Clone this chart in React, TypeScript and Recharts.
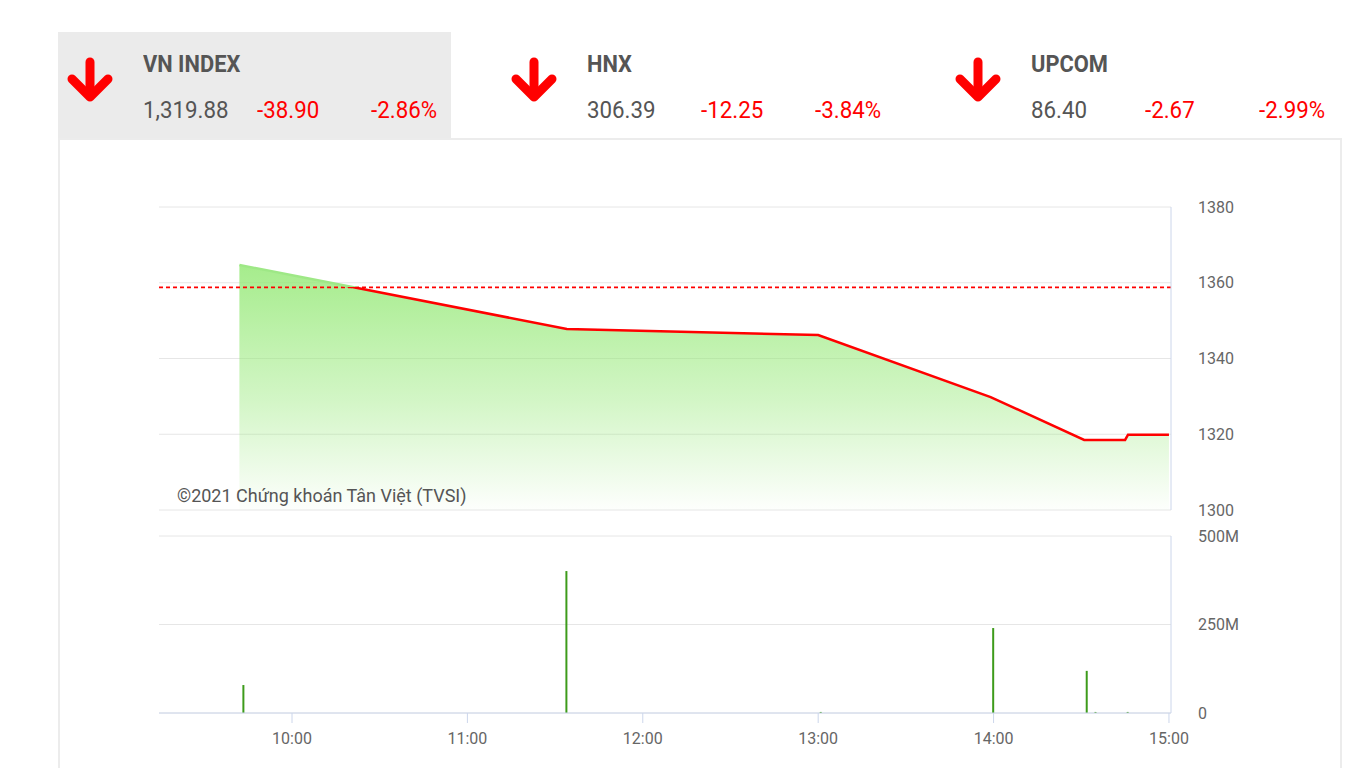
import React from 'react'
import {
  ComposedChart, Area, Line, Bar, XAxis, YAxis, CartesianGrid, ReferenceLine,
} from 'recharts'

// index summary (header tabs)
const indexNames = ['VN INDEX', 'HNX', 'UPCOM']
const indexValues = ['1,319.88', '306.39', '86.40']
const indexChanges = ['-38.90', '-12.25', '-2.67']
const indexPercents = ['-2.86%', '-3.84%', '-2.99%']

// intraday VN-INDEX, time in minutes from midnight
const priceTimes = [582, 694, 780, 839, 871, 885, 886, 900]
const priceValues = [1364.7, 1347.8, 1346.2, 1329.8, 1318.5, 1318.5, 1319.88, 1319.88]
const prevClose = 1358.78

// matched volume, millions
const volTimes = [583.5, 694, 781, 840, 872, 875, 886]
const volValues = [79, 401, 3, 240, 119, 3, 3]

const priceTicks = [1300, 1320, 1340, 1360, 1380]
const volTicks = [0, 250, 500]
const timeTicks = [600, 660, 720, 780, 840, 900]
const timeLabels = ['10:00', '11:00', '12:00', '13:00', '14:00', '15:00']
const timeDomain = [554.5, 900.7]

const priceData = priceTimes.map((t, i) => ({ t, price: priceValues[i] }))
const volData = volTimes.map((t, i) => ({ t, vol: volValues[i] }))

const hi = Math.max(...priceValues)
const lo = Math.min(...priceValues)
const zoneOffset = (hi - prevClose) / (hi - lo)

const font = 'Roboto, "Noto Sans", sans-serif'
const tickStyle = { fontSize: 16, fill: '#666', fontFamily: font }
const axisBlue = '#ccd6eb'

function Arrow() {
  return (
    <svg width={56} height={56} viewBox="0 0 56 56">
      <g stroke="#ff0000" strokeWidth={9} strokeLinecap="round" strokeLinejoin="round" fill="none">
        <line x1={24} y1={8} x2={24} y2={42} />
        <polyline points="6,25 24,43 42,25" />
      </g>
    </svg>
  )
}

function Header() {
  return (
    <>
      {indexNames.map((name, i) => {
        const left = 58 + i * 444
        return (
          <div key={name} style={{
            position: 'absolute', left, top: 32, width: 393, height: 106,
            background: i === 0 ? '#ebebeb' : 'transparent', fontFamily: font,
          }}>
            <div style={{ position: 'absolute', left: 8, top: 22 }}><Arrow /></div>
            <div style={{ position: 'absolute', left: 85, top: 21, fontSize: 23, lineHeight: '24px', fontWeight: 700, color: '#555', transform: 'scaleX(0.95)', transformOrigin: 'left' }}>{name}</div>
            <div style={{ position: 'absolute', left: 85, top: 67, fontSize: 23, lineHeight: '24px', color: '#555', transform: 'scaleX(0.97)', transformOrigin: 'left' }}>{indexValues[i]}</div>
            <div style={{ position: 'absolute', left: 199, top: 67, fontSize: 23, lineHeight: '24px', color: '#ff0000', transform: 'scaleX(0.97)', transformOrigin: 'left' }}>{indexChanges[i]}</div>
            <div style={{ position: 'absolute', right: 14, top: 67, fontSize: 23, lineHeight: '24px', color: '#ff0000', transform: 'scaleX(0.97)', transformOrigin: 'right' }}>{indexPercents[i]}</div>
          </div>
        )
      })}
    </>
  )
}

function PriceChart() {
  return (
    <ComposedChart width={1092} height={323} data={priceData} margin={{ top: 10, right: 0, bottom: 10, left: 0 }}>
      <defs>
        <linearGradient id="areaFill" x1="0" y1="0" x2="0" y2="1">
          <stop offset="0%" stopColor="#96e978" stopOpacity={1} />
          <stop offset="55%" stopColor="#96e978" stopOpacity={0.5} />
          <stop offset="100%" stopColor="#96e978" stopOpacity={0.02} />
        </linearGradient>
        <linearGradient id="lineZone" x1="0" y1="0" x2="0" y2="1">
          <stop offset="0%" stopColor="#9ee886" />
          <stop offset={zoneOffset} stopColor="#9ee886" />
          <stop offset={zoneOffset} stopColor="#ff0000" />
          <stop offset="100%" stopColor="#ff0000" />
        </linearGradient>
      </defs>
      <CartesianGrid vertical={false} stroke="#e6e6e6" />
      <XAxis dataKey="t" type="number" domain={timeDomain} hide />
      <YAxis
        orientation="right" width={80} domain={[1300, 1380]} ticks={priceTicks}
        tick={tickStyle} tickLine={false} tickSize={0} tickMargin={27}
        axisLine={{ stroke: axisBlue }}
      />
      <ReferenceLine y={prevClose} stroke="#ff0000" strokeDasharray="4 3" strokeWidth={1.6} />
      <Area type="linear" dataKey="price" stroke="none" fill="url(#areaFill)" fillOpacity={0.85} isAnimationActive={false} />
      <Line type="linear" dataKey="price" stroke="url(#lineZone)" strokeWidth={2.5} dot={false} activeDot={false} isAnimationActive={false} />
    </ComposedChart>
  )
}

function VolumeChart() {
  return (
    <ComposedChart width={1092} height={227} data={volData} margin={{ top: 10, right: 0, bottom: 0, left: 0 }}>
      <CartesianGrid vertical={false} stroke="#e6e6e6" />
      <XAxis
        dataKey="t" type="number" domain={timeDomain} ticks={timeTicks} height={40}
        tickFormatter={(v: number) => timeLabels[timeTicks.indexOf(v)]}
        tick={tickStyle} tickSize={10} tickMargin={10}
        axisLine={{ stroke: axisBlue }} tickLine={{ stroke: axisBlue }}
      />
      <YAxis
        orientation="right" width={80} domain={[0, 500]} ticks={volTicks}
        tickFormatter={(v: number) => (v === 0 ? '0' : `${v}M`)}
        tick={tickStyle} tickLine={false} tickSize={0} tickMargin={27}
        axisLine={{ stroke: axisBlue }}
      />
      <Bar dataKey="vol" fill="#3d9b1b" barSize={2} isAnimationActive={false} />
    </ComposedChart>
  )
}

export default function App() {
  return (
    <div style={{ position: 'absolute', left: 0, top: 0, width: 1366, height: 768, overflow: 'hidden', background: '#fff' }}>
      <Header />
      <div style={{ position: 'absolute', left: 58, top: 138, width: 1280, height: 700, border: '2px solid #ececec' }} />
      <div style={{ position: 'absolute', left: 159, top: 197 }}><PriceChart /></div>
      <div style={{
        position: 'absolute', left: 177, top: 485, fontSize: 18, lineHeight: '22px', color: '#555',
        fontFamily: font,
      }}>©2021 Chứng khoán Tân Việt (TVSI)</div>
      <div style={{ position: 'absolute', left: 159, top: 526 }}><VolumeChart /></div>
    </div>
  )
}
